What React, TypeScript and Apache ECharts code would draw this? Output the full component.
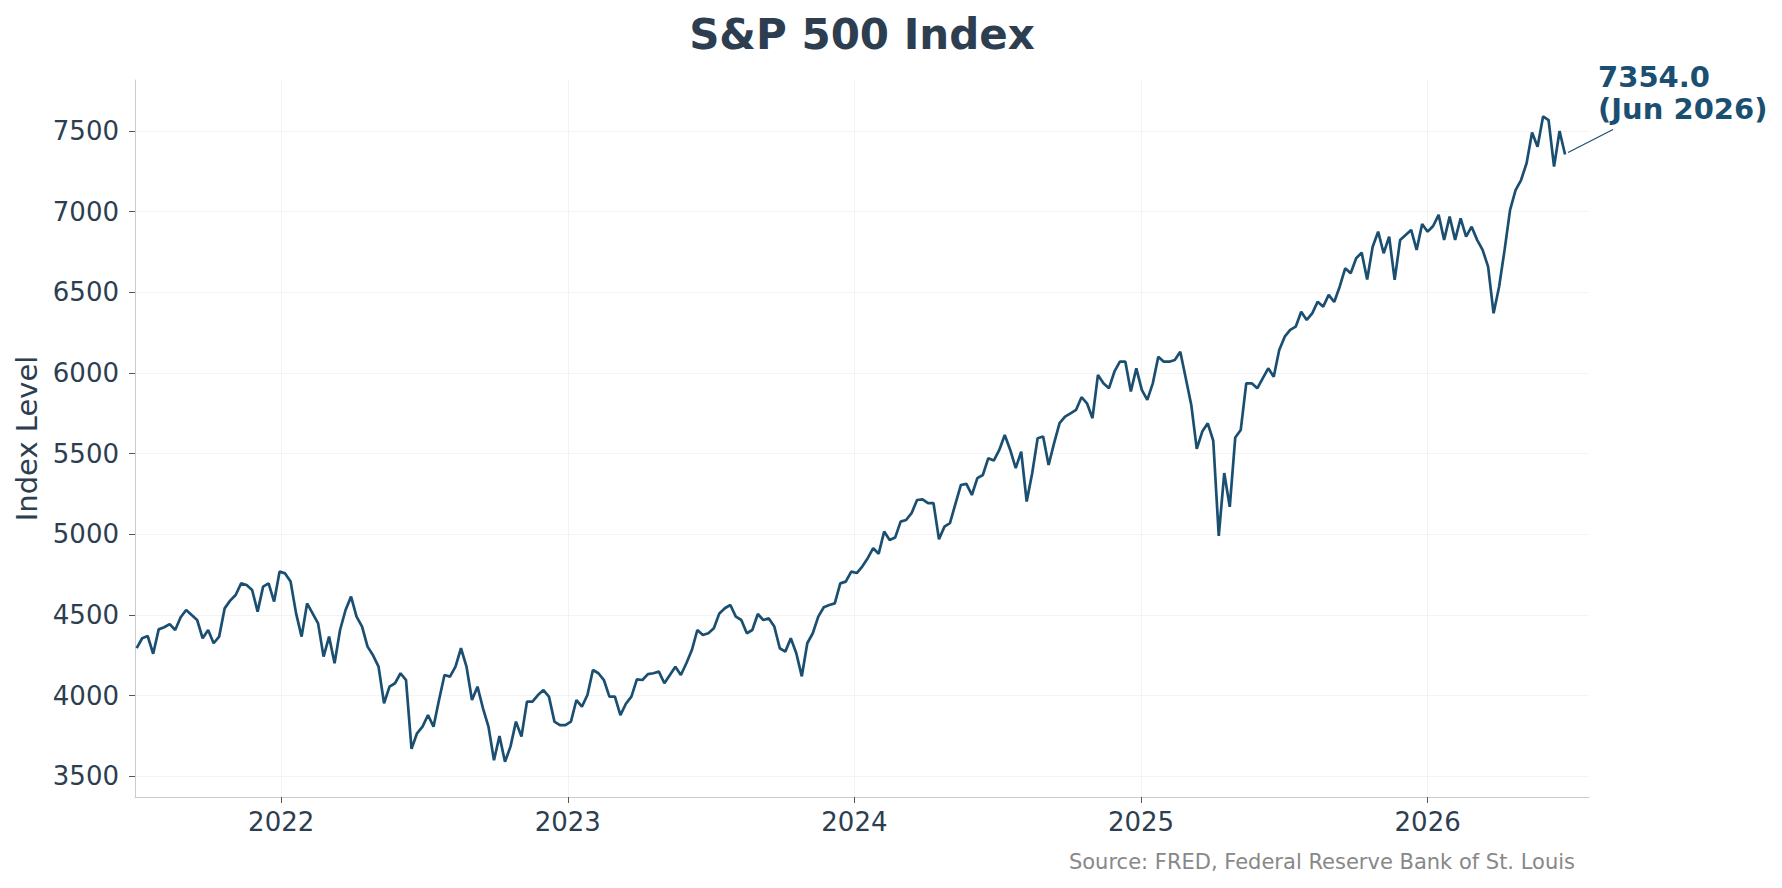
import { useEffect, useRef } from "react"
import * as echarts from "echarts"

// weekly closes, one per week starting at firstWeek
const firstWeek = "2021-07-01"
const weeklyClose = [
  4295, 4356, 4370, 4260, 4411, 4424, 4444, 4407, 4486, 4531,
  4500, 4469, 4356, 4407, 4325, 4366, 4541, 4589, 4624, 4696,
  4686, 4655, 4521, 4676, 4696, 4583, 4769, 4758, 4707, 4510,
  4366, 4572, 4510, 4448, 4242, 4366, 4201, 4407, 4531, 4614,
  4490, 4428, 4304,
  4250, 4180, 3953, 4056, 4077, 4139, 4097, 3670, 3767, 3808,
  3880, 3808, 3973, 4128, 4118, 4180, 4294, 4180, 3973, 4056,
  3922, 3808, 3600, 3750, 3590, 3684, 3839, 3746, 3963, 3963,
  4004, 4035, 3994, 3839, 3818, 3818, 3839, 3973, 3932, 4004,
  4159, 4139, 4097, 3994,
  3994, 3880, 3950, 3994, 4101, 4097, 4134, 4139, 4149, 4077,
  4128, 4180, 4128, 4201, 4283, 4407, 4376, 4387, 4418, 4510,
  4542, 4562, 4490, 4469, 4387, 4407, 4506, 4469, 4479, 4428,
  4294, 4273, 4356, 4263, 4120, 4325, 4387, 4490, 4548, 4562,
  4572, 4696, 4707, 4769,
  4760, 4800, 4852, 4914, 4880, 5017, 4965, 4980, 5079, 5089,
  5131, 5213, 5217, 5193, 5193, 4970, 5048, 5069, 5189, 5306,
  5313, 5244, 5348, 5368, 5472, 5457, 5523, 5616, 5523, 5410,
  5513, 5203, 5379, 5596, 5606, 5430, 5565, 5689, 5730, 5750,
  5771, 5850, 5812,
  5720, 5988, 5936, 5905, 6008, 6070, 6070, 5885, 6029, 5895,
  5833, 5936, 6101, 6070, 6070, 6081, 6132, 5967, 5802, 5530,
  5637, 5688, 5580, 4990, 5380, 5170, 5600, 5647, 5936, 5936,
  5905, 5967, 6029, 5977, 6143, 6225, 6267, 6287, 6380, 6329,
  6370, 6442, 6411, 6484,
  6440, 6535, 6649, 6618, 6711, 6746, 6580, 6783, 6876, 6742,
  6845, 6577, 6825, 6856, 6887, 6763, 6924, 6876, 6911, 6980,
  6825, 6969, 6825, 6959, 6845, 6907, 6825, 6763, 6659, 6370,
  6535, 6763, 7011, 7134, 7196, 7300, 7490, 7403, 7590, 7568,
  7279, 7500, 7354.0,
]
const yearTicks = [2022, 2023, 2024, 2025, 2026]
const levelTicks = [3500, 4000, 4500, 5000, 5500, 6000, 6500, 7000, 7500]
const monthNames = ["Jan", "Feb", "Mar", "Apr", "May", "Jun", "Jul", "Aug", "Sep", "Oct", "Nov", "Dec"]

const chartTitle = "S&P 500 Index"
const yAxisName = "Index Level"
const sourceNote = "Source: FRED, Federal Reserve Bank of St. Louis"

const FONT = "DejaVu Sans"
const LINE_COLOR = "#1b4f72"
const TEXT_COLOR = "#2c3e50"
const DAY = 86400000

function toDecimalYear(ms: number) {
  const y = new Date(ms).getUTCFullYear()
  const start = Date.UTC(y, 0, 1)
  const end = Date.UTC(y + 1, 0, 1)
  return y + (ms - start) / (end - start)
}

export default function App() {
  const chartRef = useRef<HTMLDivElement>(null)

  useEffect(() => {
    if (!chartRef.current) return
    document.body.style.margin = "0"
    document.body.style.overflow = "hidden"

    const chart = echarts.init(chartRef.current, null, { renderer: "svg" })

    const t0 = Date.parse(firstWeek)
    const points = weeklyClose.map((v, i) => [toDecimalYear(t0 + i * 7 * DAY), v])
    const lastIdx = weeklyClose.length - 1
    const lastDate = new Date(t0 + lastIdx * 7 * DAY)
    const lastLabel = `${weeklyClose[lastIdx].toFixed(1)}\n(${monthNames[lastDate.getUTCMonth()]} ${lastDate.getUTCFullYear()})`

    chart.setOption({
      animation: false,
      backgroundColor: "#ffffff",
      grid: { left: 135, right: 193, top: 80, bottom: 91, containLabel: false },
      xAxis: {
        type: "value",
        min: 2021.49,
        max: 2026.563,
        axisLine: { show: true, lineStyle: { color: "#cccccc", width: 1 } },
        axisTick: { show: true, customValues: yearTicks, length: 6, lineStyle: { color: "#555555" } },
        axisLabel: {
          customValues: yearTicks,
          formatter: (v: number) => String(Math.round(v)),
          fontFamily: FONT,
          fontSize: 26,
          color: TEXT_COLOR,
          margin: 12,
        },
        splitLine: { show: true, lineStyle: { color: "#f3f3f3", width: 1 } },
      },
      yAxis: {
        type: "value",
        min: 3372,
        max: 7816,
        name: yAxisName,
        nameLocation: "middle",
        nameGap: 90,
        nameTextStyle: { fontFamily: FONT, fontSize: 29, color: TEXT_COLOR },
        axisLine: { show: true, lineStyle: { color: "#cccccc", width: 1 } },
        axisTick: { show: true, customValues: levelTicks, length: 6, lineStyle: { color: "#555555" } },
        axisLabel: {
          customValues: levelTicks,
          formatter: (v: number) => String(Math.round(v)),
          fontFamily: FONT,
          fontSize: 26,
          color: TEXT_COLOR,
          margin: 16,
        },
        splitLine: { show: true, lineStyle: { color: "#f3f3f3", width: 1 } },
      },
      series: [
        {
          type: "line",
          data: points,
          showSymbol: false,
          lineStyle: { color: LINE_COLOR, width: 2.7 },
          itemStyle: { color: LINE_COLOR },
        },
      ],
    })

    const [px, py] = chart.convertToPixel({ gridIndex: 0 }, points[lastIdx]) as number[]

    chart.setOption({
      graphic: [
        {
          type: "text",
          x: 862,
          y: 34,
          style: {
            text: chartTitle,
            font: `bold 42px "${FONT}"`,
            fill: TEXT_COLOR,
            align: "center",
            verticalAlign: "middle",
          },
        },
        {
          type: "text",
          x: 1575,
          y: 862,
          style: {
            text: sourceNote,
            font: `21px "${FONT}"`,
            fill: "#888888",
            align: "right",
            verticalAlign: "middle",
          },
        },
        {
          type: "line",
          shape: { x1: px + 3, y1: py - 2, x2: px + 48, y2: py - 25 },
          style: { stroke: LINE_COLOR, lineWidth: 1.2 },
        },
        {
          type: "text",
          x: px + 33,
          y: py - 62,
          style: {
            text: lastLabel,
            font: `bold 29px "${FONT}"`,
            fill: LINE_COLOR,
            align: "left",
            verticalAlign: "middle",
            lineHeight: 32,
          },
        },
      ],
    })

    return () => {
      chart.dispose()
    }
  }, [])

  return <div ref={chartRef} style={{ width: "1782px", height: "888px" }} />
}
